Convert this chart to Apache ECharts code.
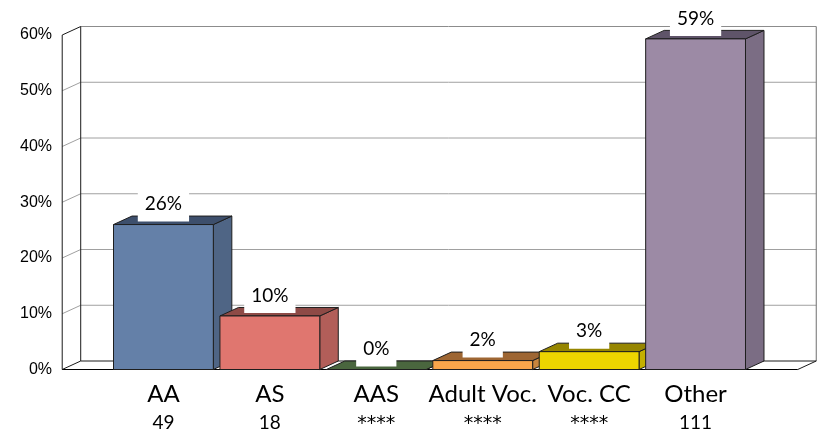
<!DOCTYPE html>
<html>
<head>
<meta charset="utf-8">
<script src="https://cdn.jsdelivr.net/npm/echarts@6/dist/echarts.min.js"></script>
<style>
html,body{margin:0;padding:0;background:#fff;}
#chart{width:823px;height:434px;}
</style>
</head>
<body>
<div id="chart"></div>
<script>
// ---- data ----
const categories = ['AA', 'AS', 'AAS', 'Adult Voc.', 'Voc. CC', 'Other'];
const counts = ['49', '18', '****', '****', '****', '111'];
const shares = [0.26, 0.096, 0, 0.016, 0.032, 0.593];
const gridValues = [0.1, 0.2, 0.3, 0.4, 0.5, 0.6];

// ---- styles ----
const frontColors = ['#6480A8', '#E0766F', '#4E6B42', '#F9A64B', '#EDD500', '#9C8AA5'];
const sideColors  = ['#4F6585', '#B25E59', '#3F5736', '#C8853D', '#C4B000', '#7B6D84'];
const topColors   = ['#3D4F6C', '#8E4A46', '#4A663E', '#9E6633', '#968600', '#5F5469'];
const DX = 18.5, DY = -8.5;       // depth offset in px
const X0 = -0.951, X1 = 5.96;     // floor extent in category units
const HW = 0.469;                 // half bar width in category units

function back(p) { return [p[0] + DX, p[1] + DY]; }
function line(a, b, color) {
  return { type: 'line', shape: { x1: a[0], y1: a[1], x2: b[0], y2: b[1] },
           style: { stroke: color, lineWidth: 1 } };
}
function poly(pts, fill, stroke) {
  return { type: 'polygon', shape: { points: pts },
           style: { fill: fill, stroke: stroke || 'none', lineWidth: 1 } };
}

function renderWalls(params, api) {
  const fl0 = api.coord([X0, 0]), fr0 = api.coord([X1, 0]);
  const fl6 = api.coord([X0, 0.6]), fr6 = api.coord([X1, 0.6]);
  const ch = [];
  ch.push(poly([fl0, fr0, back(fr0), back(fl0)], '#fff'));
  ch.push(poly([fl0, fl6, back(fl6), back(fl0)], '#fff'));
  ch.push(poly([back(fl0), back(fr0), back(fr6), back(fl6)], '#fff'));
  gridValues.forEach(function (t) {
    const f = api.coord([X0, t]);
    const r = api.coord([X1, t]);
    if (t < 0.6) {
      ch.push(line(f, back(f), '#A0A0A0'));
      ch.push(line(back(f), back(r), '#A0A0A0'));
    }
  });
  // back wall edges
  ch.push(line(back(fl6), back(fr6), '#8C8C8C'));
  ch.push(line(back(fr6), back(fr0), '#6E6E6E'));
  ch.push(line(back(fl0), back(fl6), '#1A1A1A'));
  ch.push(line(back(fl0), back(fr0), '#1A1A1A'));
  // left wall edges
  ch.push(line(fl0, fl6, '#1A1A1A'));
  ch.push(line(fl6, back(fl6), '#1A1A1A'));
  // floor edges
  ch.push(line(fl0, fr0, '#000'));
  ch.push(line(fr0, back(fr0), '#1A1A1A'));
  ch.push(line(fl0, back(fl0), '#1A1A1A'));
  return { type: 'group', children: ch };
}

function renderBar(params, api) {
  const i = api.value(0), v = api.value(1), k = params.dataIndex;
  const tl = api.coord([i - HW, v]), tr = api.coord([i + HW, v]);
  const bl = api.coord([i - HW, 0]), br = api.coord([i + HW, 0]);
  const edge = '#1E1E1E';
  const ch = [];
  ch.push(poly([tr, br, back(br), back(tr)], sideColors[k], edge));
  ch.push(poly([tl, tr, back(tr), back(tl)], topColors[k], edge));
  if (bl[1] - tl[1] > 0.5) {
    ch.push({ type: 'rect', shape: { x: tl[0], y: tl[1], width: tr[0] - tl[0], height: bl[1] - tl[1] },
              style: { fill: frontColors[k], stroke: edge, lineWidth: 1 } });
  }
  return { type: 'group', children: ch };
}

function renderLabel(params, api) {
  const i = api.value(0), v = api.value(1);
  const p = api.coord([i, v]);
  return {
    type: 'text', x: p[0], y: p[1] - 3,
    style: {
      text: Math.round(v * 100) + '%',
      fill: '#000', fontSize: 19, fontFamily: 'Lato', lineHeight: 19,
      align: 'center', verticalAlign: 'bottom',
      backgroundColor: '#fff', padding: [3, 7, 8, 7]
    }
  };
}

const barData = shares.map(function (v, i) { return [i, v]; });

const chart = echarts.init(document.getElementById('chart'), null, { renderer: 'canvas' });
chart.setOption({
  animation: false,
  backgroundColor: '#fff',
  grid: { left: 57, right: 21, top: 35, bottom: 64, containLabel: false },
  xAxis: {
    type: 'value', min: -1, max: 6, interval: 1,
    axisLine: { show: false }, axisTick: { show: false }, splitLine: { show: false },
    axisLabel: {
      margin: 11,
      showMinLabel: false, showMaxLabel: false,
      formatter: function (val) {
        const i = Math.round(val);
        if (Math.abs(val - i) > 1e-6 || i < 0 || i >= categories.length) return '';
        const second = /^\*+$/.test(counts[i]) ? '{c|' + counts[i] + '}' : '{b|' + counts[i] + '}';
        return '{a|' + categories[i] + '}\n' + second;
      },
      rich: {
        a: { fontSize: 24, fontFamily: 'Lato', color: '#000', lineHeight: 28 },
        b: { fontSize: 19, fontFamily: 'Lato', color: '#000', lineHeight: 28 },
        c: { fontSize: 19, fontFamily: 'DejaVu Sans', color: '#000', lineHeight: 28, padding: [4, 0, 0, 0] }
      }
    }
  },
  yAxis: {
    type: 'value', min: 0, max: 0.6, interval: 0.1,
    axisLine: { show: false }, axisTick: { show: false }, splitLine: { show: false },
    axisLabel: {
      margin: 5, fontSize: 16, fontFamily: 'Liberation Sans', color: '#000',
      formatter: function (v) { return Math.round(v * 100) + '%'; }
    }
  },
  series: [
    { type: 'custom', z: 1, renderItem: renderWalls, data: [[0, 0]], silent: true },
    { type: 'custom', z: 2, renderItem: renderBar, data: barData, clip: false },
    { type: 'custom', z: 3, renderItem: renderLabel, data: barData, clip: false }
  ]
});
</script>
</body>
</html>
